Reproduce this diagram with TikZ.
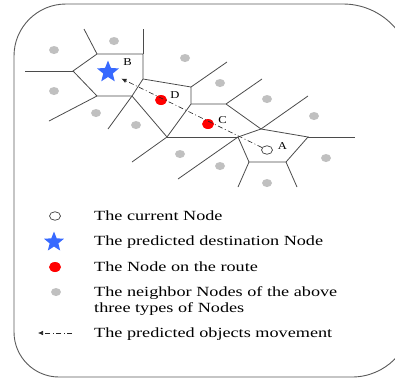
\documentclass[tikz,border=0pt]{standalone}
\usepackage{fontspec}
\usepackage{graphicx}
\setmainfont{Liberation Serif}
\usetikzlibrary{shapes.geometric,arrows.meta,calc}

\definecolor{frame}{RGB}{90,90,90}
\definecolor{cellline}{RGB}{75,75,75}
\definecolor{neighbor}{RGB}{192,192,192}
\definecolor{routered}{RGB}{255,0,0}
\definecolor{starblue}{RGB}{55,105,255}

\newcommand{\wtext}[1]{\scalebox{1.3}[1]{#1}}
\newcommand{\wlabel}[1]{\scalebox{1.2}[1]{#1}}

\tikzset{
  cell/.style={draw=cellline, line width=0.8pt},
  graydot/.style={ellipse, fill=neighbor, minimum width=10pt, minimum height=8pt, inner sep=0pt},
  reddot/.style={ellipse, fill=routered, minimum width=12pt, minimum height=10pt, inner sep=0pt},
  curdot/.style={ellipse, draw=black!75, line width=0.7pt, fill=white, minimum width=11pt, minimum height=8.5pt, inner sep=0pt},
  bstar/.style={star, star points=5, star point ratio=2.3, fill=starblue, inner sep=0pt},
  route/.style={draw=black!85, line width=0.6pt, dash pattern=on 5pt off 2.5pt on 1pt off 2.5pt,
    -{Latex[length=5pt,width=4.5pt]}},
  ptlabel/.style={font=\fontsize{10.5}{12}\selectfont, inner sep=0pt},
  legtext/.style={font=\fontsize{14}{16}\selectfont, anchor=base west, inner sep=0pt, align=left},
}

\begin{document}
\begin{tikzpicture}[x=1pt, y=-1pt]
\useasboundingbox (0,0) rectangle (395,378);
\clip (0,0) rectangle (395,378);

% outer frame with unequal corner radii
\draw[frame, line width=0.9pt]
  (14,200) [rounded corners=52] -- (14,4) [rounded corners=69] -- (412,4)
  [rounded corners=60] -- (412,377) [rounded corners=45] -- (14,377) [sharp corners] -- (14,200);

% Voronoi vertices
\coordinate (v1) at (97,54);
\coordinate (v2) at (143,54);
\coordinate (v3) at (73,71);
\coordinate (v4) at (97,96);
\coordinate (v5) at (132,96);
\coordinate (v6) at (143,79);
\coordinate (v7) at (191,87);
\coordinate (v8) at (191,104);
\coordinate (v9) at (167,137);
\coordinate (v10) at (226,104);
\coordinate (v11) at (238,137);
\coordinate (v12) at (261,129);
\coordinate (v13) at (308,137);
\coordinate (v14) at (286,162);
\coordinate (v15) at (249,162);
% open ends of the cell edges
\coordinate (e1) at (84,29);
\coordinate (e2) at (143,29);
\coordinate (e3) at (25,71);
\coordinate (e4) at (49,121);
\coordinate (e5) at (108,129);
\coordinate (e6) at (227,62);
\coordinate (e7) at (262,79);
\coordinate (e8) at (132,162);
\coordinate (e9) at (308,96);
\coordinate (e10) at (355,137);
\coordinate (e11) at (297,187);
\coordinate (e12) at (238,187);
\coordinate (e13) at (178,179);

% cell of B
\draw[cell] (v1) -- (v2) -- (v6) -- (v5) -- (v4) -- (v3) -- cycle;
% cell of A
\draw[cell] (v11) -- (v12) -- (v13) -- (v14) -- (v15) -- cycle;
% remaining edges
\draw[cell] (v6) -- (v7) -- (v8) -- (v9) -- (v5);
\draw[cell] (v8) -- (v10) -- (v12);
\draw[cell] (v9) -- (v11);
\draw[cell] (v1) -- (e1);
\draw[cell] (v2) -- (e2);
\draw[cell] (v3) -- (e3);
\draw[cell] (v4) -- (e4);
\draw[cell] (v5) -- (e5);
\draw[cell] (v7) -- (e6);
\draw[cell] (v10) -- (e7);
\draw[cell] (v9) -- (e8);
\draw[cell] (v12) -- (e9);
\draw[cell] (v13) -- (e10);
\draw[cell] (v14) -- (e11);
\draw[cell] (v15) -- (e12);
\draw[cell] (v11) -- (e13);

% neighbour nodes
\node[graydot] (n1) at (54,50) {};
\node[graydot] (n2) at (114,41) {};
\node[graydot] (n3) at (185,58) {};
\node[graydot] (n4) at (54,91) {};
\node[graydot] (n5) at (96,113) {};
\node[graydot] (n6) at (136,125) {};
\node[graydot] (n7) at (180,154) {};
\node[graydot] (n8) at (220,83) {};
\node[graydot] (n9) at (267,99) {};
\node[graydot] (n10) at (314,116) {};
\node[graydot] (n11) at (220,166) {};
\node[graydot] (n12) at (267,183) {};
\node[graydot] (n13) at (326,158) {};

% route nodes, destination and current node
\node[reddot] (D) at (161,100) {};
\node[reddot] (C) at (208,124) {};
\node[bstar, minimum size=23pt] (B) at (108,72) {};
\node[curdot] (A) at (267,150) {};

\node[ptlabel] (lB) at (127.5,62.5) {\wlabel{B}};
\node[ptlabel] (lD) at (175,95.5) {\wlabel{D}};
\node[ptlabel] (lC) at (222.5,120.5) {\wlabel{C}};
\node[ptlabel] (lA) at (282.5,146.5) {\wlabel{A}};

% predicted movement
\coordinate (tip) at ($(B)!15pt!(A)$);
\draw[route] (A) -- (tip);

% legend
\node[curdot] (k1) at (55,216) {};
\node[bstar, minimum size=21pt] (k2) at (54,242) {};
\node[reddot] (k3) at (55,267) {};
\node[graydot] (k4) at (56,292) {};
\coordinate (k5a) at (72,333);
\coordinate (k5b) at (38,333);
\draw[route] (k5a) -- (k5b);

\node[legtext] (t1) at (94,220) {\wtext{The current Node}};
\node[legtext] (t2) at (94,245) {\wtext{The predicted destination Node}};
\node[legtext] (t3) at (94,271) {\wtext{The Node on the route}};
\node[legtext] (t4) at (94,296) {\wtext{The neighbor Nodes of the above}};
\node[legtext] (t5) at (94,312) {\wtext{three types of Nodes}};
\node[legtext] (t6) at (94,337) {\wtext{The predicted objects movement}};
\end{tikzpicture}
\end{document}
